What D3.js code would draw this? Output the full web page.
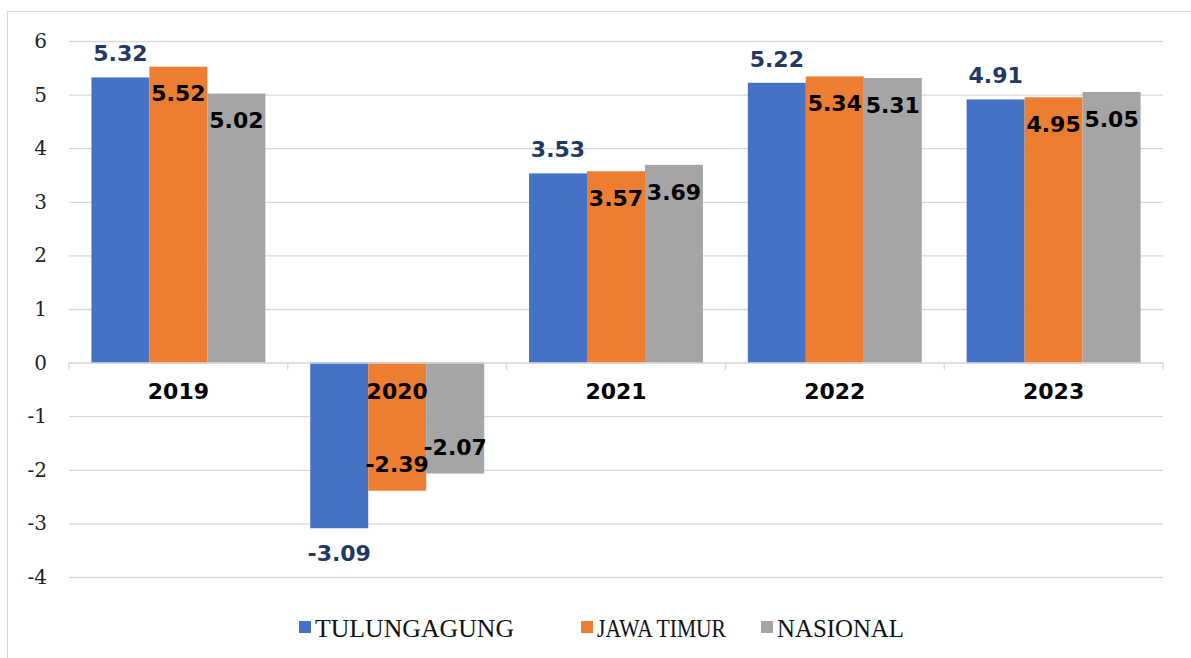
<!DOCTYPE html>
<html>
<head>
<meta charset="utf-8">
<script src="https://cdn.jsdelivr.net/npm/d3@7"></script>
<style>
  body { margin: 0; background: #fff; }
</style>
</head>
<body>
<svg id="chart" width="1191" height="658"></svg>
<script>
var years = ['2019', '2020', '2021', '2022', '2023']
var seriesNames = ['TULUNGAGUNG', 'JAWA TIMUR', 'NASIONAL']
var tulungagung = [5.32, -3.09, 3.53, 5.22, 4.91]
var jawaTimur = [5.52, -2.39, 3.57, 5.34, 4.95]
var nasional = [5.02, -2.07, 3.69, 5.31, 5.05]
var yTicks = [-4, -3, -2, -1, 0, 1, 2, 3, 4, 5, 6]

var colors = ['#4472c4', '#ed7d31', '#a5a5a5']
var labelColors = ['#1f3864', '#000', '#000']
var allSeries = [tulungagung, jawaTimur, nasional]

var svg = d3.select('#chart')

// outer frame
svg.append('rect')
  .attr('x', 7.5).attr('y', 11.5)
  .attr('width', 1200).attr('height', 660)
  .attr('fill', '#fff').attr('stroke', '#d9d9d9')

var left = 69, right = 1163
var y = d3.scaleLinear().domain([-4, 6]).range([577, 41])
var x0 = d3.scaleBand().domain(years).range([left, right]).paddingInner(0.205).paddingOuter(0.1025)
var x1 = d3.scaleBand().domain(d3.range(3)).range([0, x0.bandwidth()])

// grid lines
svg.append('g').selectAll('line')
  .data(yTicks)
  .enter().append('line')
  .attr('x1', left).attr('x2', right)
  .attr('y1', d => y(d) + 0.5).attr('y2', d => y(d) + 0.5)
  .attr('stroke', '#d9d9d9').attr('stroke-width', 1.3)

// y tick labels
svg.append('g').selectAll('text')
  .data(yTicks)
  .enter().append('text')
  .attr('x', 47).attr('y', d => y(d))
  .attr('dy', '0.35em')
  .attr('text-anchor', 'end')
  .style('font-family', '"DejaVu Serif", serif')
  .style('font-size', '20px')
  .attr('fill', '#222')
  .text(d => d)

// bars
var groups = svg.append('g').selectAll('g')
  .data(years)
  .enter().append('g')
  .attr('transform', d => 'translate(' + x0(d) + ',0)')

groups.selectAll('rect')
  .data((d, i) => allSeries.map((s, k) => ({ k: k, v: s[i] })))
  .enter().append('rect')
  .attr('x', d => x1(d.k))
  .attr('width', x1.bandwidth())
  .attr('y', d => y(Math.max(0, d.v)))
  .attr('height', d => Math.abs(y(d.v) - y(0)))
  .attr('fill', d => colors[d.k])

// zero axis line with category separator ticks
svg.append('line')
  .attr('x1', left).attr('x2', right)
  .attr('y1', y(0) + 0.5).attr('y2', y(0) + 0.5)
  .attr('stroke', '#d9d9d9').attr('stroke-width', 1.3)

var bounds = d3.range(6).map(i => left + i * (right - left) / 5)
svg.append('g').selectAll('line')
  .data(bounds)
  .enter().append('line')
  .attr('x1', d => d).attr('x2', d => d)
  .attr('y1', y(0)).attr('y2', y(0) + 7)
  .attr('stroke', '#d9d9d9').attr('stroke-width', 1.3)

// category labels
svg.append('g').selectAll('text')
  .data(years)
  .enter().append('text')
  .attr('x', d => x0(d) + x0.bandwidth() / 2)
  .attr('y', y(0) + 29)
  .attr('dy', '0.35em')
  .attr('text-anchor', 'middle')
  .style('font-family', '"DejaVu Sans", Verdana, sans-serif')
  .style('font-weight', 'bold')
  .style('font-size', '22px')
  .attr('fill', '#000')
  .text(d => d)

// value labels
groups.selectAll('text.val')
  .data((d, i) => allSeries.map((s, k) => ({ k: k, v: s[i] })))
  .enter().append('text')
  .attr('class', 'val')
  .attr('x', d => x1(d.k) + x1.bandwidth() / 2)
  .attr('y', function (d) {
    if (d.k === 0) return d.v >= 0 ? y(d.v) - 24 : y(d.v) + 25
    return d.v >= 0 ? y(d.v) + 27 : y(d.v) - 26
  })
  .attr('dy', '0.35em')
  .attr('text-anchor', 'middle')
  .style('font-family', '"DejaVu Sans", Verdana, sans-serif')
  .style('font-weight', 'bold')
  .style('font-size', '22px')
  .attr('fill', d => labelColors[d.k])
  .text(d => d.v.toFixed(2))

// legend
var legendX = [299, 581, 761]
var legendTextW = [199, 129, 127]
var legend = svg.append('g').selectAll('g')
  .data(seriesNames)
  .enter().append('g')
  .attr('transform', (d, i) => 'translate(' + legendX[i] + ',627)')

legend.append('rect')
  .attr('x', 0).attr('y', -6)
  .attr('width', 12).attr('height', 12)
  .attr('fill', (d, i) => colors[i])

legend.append('text')
  .attr('x', 16).attr('y', 1)
  .attr('dy', '0.35em')
  .attr('textLength', (d, i) => legendTextW[i])
  .attr('lengthAdjust', 'spacingAndGlyphs')
  .style('font-family', '"Liberation Serif", "Times New Roman", serif')
  .style('font-size', '25.5px')
  .attr('fill', '#111')
  .text(d => d)
</script>
</body>
</html>
